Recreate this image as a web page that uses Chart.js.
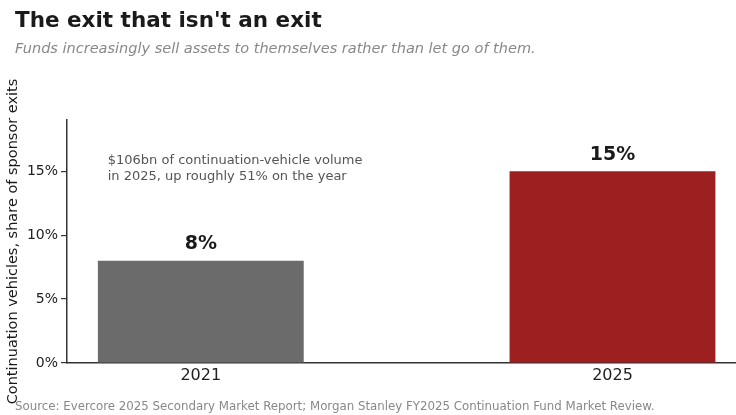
<!DOCTYPE html>
<html>
<head>
<meta charset="utf-8">
<script src="https://cdn.jsdelivr.net/npm/chart.js@4.4.1/dist/chart.umd.min.js"></script>
<style>
    html, body { margin: 0; padding: 0; background: #fff; overflow: hidden; }
    #wrap { position: relative; width: 736px; height: 415px; font-family: "DejaVu Sans", sans-serif; }
    #chart { position: absolute; left: 0; top: 0; }
    .txt { position: absolute; white-space: nowrap; line-height: 1; }
    #title { left: 15px; top: 9px; font-size: 21.5px; font-weight: bold; color: #1a1a1a; }
    #subtitle { left: 15px; top: 41px; font-size: 14.5px; font-style: italic; color: #888; }
    #source { left: 15px; top: 401px; font-size: 11.8px; color: #888; }
</style>
</head>
<body>
<div id="wrap">
    <canvas id="chart" width="736" height="415"></canvas>
    <div class="txt" id="title">The exit that isn't an exit</div>
    <div class="txt" id="subtitle">Funds increasingly sell assets to themselves rather than let go of them.</div>
    <div class="txt" id="source">Source: Evercore 2025 Secondary Market Report; Morgan Stanley FY2025 Continuation Fund Market Review.</div>
</div>
<script>
    const years = ['2021', '2025'];
    const shares = [8, 15];
    const barColors = ['#6b6b6b', '#9e1f20'];
    const yTicks = [0, 5, 10, 15];
    const yTitle = 'Continuation vehicles, share of sponsor exits';
    const noteLines = ['$106bn of continuation-vehicle volume', 'in 2025, up roughly 51% on the year'];

    const labelsPlugin = {
        id: 'labels',
        afterDatasetsDraw(chart) {
            const ctx = chart.ctx;
            const x = chart.scales.x;
            const y = chart.scales.y;
            ctx.save();
            ctx.fillStyle = '#1a1a1a';
            ctx.font = 'bold 19px "DejaVu Sans"';
            ctx.textAlign = 'center';
            ctx.textBaseline = 'bottom';
            shares.forEach((v, i) => {
                ctx.fillText(v + '%', x.getPixelForValue(i), y.getPixelForValue(v) - 7);
            });
            // annotation
            ctx.fillStyle = '#555';
            ctx.font = '13px "DejaVu Sans"';
            ctx.textAlign = 'left';
            ctx.textBaseline = 'alphabetic';
            const nx = x.getPixelForValue(-0.226);
            const ny = y.getPixelForValue(15.55);
            noteLines.forEach((line, i) => ctx.fillText(line, nx, ny + i * 16));
            ctx.restore();
        }
    };

    new Chart(document.getElementById('chart'), {
        type: 'bar',
        data: {
            datasets: [{
                data: shares.map((v, i) => ({ x: i, y: v })),
                backgroundColor: barColors,
                barPercentage: 0.5,
                categoryPercentage: 1
            }]
        },
        options: {
            responsive: false,
            animation: false,
            layout: { padding: { top: 120, right: 0, left: 0, bottom: 0 } },
            plugins: { legend: { display: false }, tooltip: { enabled: false } },
            scales: {
                x: {
                    type: 'linear',
                    offset: false,
                    min: -0.325,
                    max: 1.3,
                    afterBuildTicks: s => { s.ticks = years.map((_, i) => ({ value: i })); },
                    afterFit: s => { s.height = 52; },
                    grid: { display: false, drawTicks: false },
                    border: { color: '#333', width: 1.5 },
                    ticks: {
                        callback: v => years[v],
                        color: '#222',
                        font: { family: 'DejaVu Sans', size: 16 },
                        padding: 3,
                        maxRotation: 0
                    }
                },
                y: {
                    min: 0,
                    max: 19,
                    afterBuildTicks: s => { s.ticks = yTicks.map(v => ({ value: v })); },
                    afterFit: s => { s.width = 67; },
                    grid: { display: true, drawOnChartArea: false, drawTicks: true, tickLength: 6, color: '#333', lineWidth: 1.2 },
                    border: { color: '#333', width: 1.5 },
                    ticks: {
                        callback: v => v + '%',
                        color: '#222',
                        font: { family: 'DejaVu Sans', size: 14 },
                        padding: 3
                    },
                    title: {
                        display: true,
                        text: yTitle,
                        color: '#1a1a1a',
                        font: { family: 'DejaVu Sans', size: 14.5 },
                        padding: { top: 5, bottom: 0 }
                    }
                }
            }
        },
        plugins: [labelsPlugin]
    });
</script>
</body>
</html>
